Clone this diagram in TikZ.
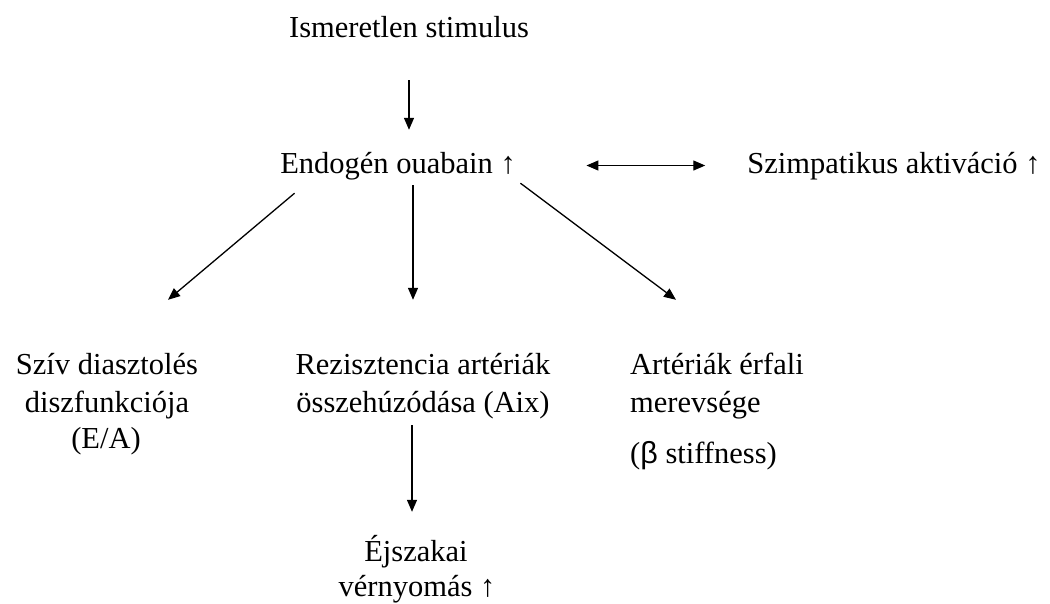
\documentclass[tikz,border=0pt]{standalone}
\usepackage{fontspec}
\setmainfont{Liberation Serif}
\newfontfamily\sansb{Liberation Sans}
\usetikzlibrary{arrows.meta}
\begin{document}
\begin{tikzpicture}[x=1pt,y=-1pt,
  txt/.style={inner sep=0pt, text height=22pt, text depth=7pt, font=\fontsize{30.5}{37}\selectfont},
  tip/.style={Triangle[length=12pt,width=10pt]},
  arr/.style={line width=1.3pt, -{Triangle[length=12pt,width=10pt]}},
  darr/.style={line width=1.3pt, {Triangle[length=12pt,width=10pt]}-{Triangle[length=12pt,width=10pt]}}]
\useasboundingbox[fill=white] (0,0) rectangle (1050,603);
\node[txt, anchor=base] (stim) at (409,37) {Ismeretlen stimulus};
\node[txt, anchor=base] (endo) at (398,173) {Endogén ouabain ↑};
\node[txt, anchor=base] (symp) at (894,173) {Szimpatikus aktiváció ↑};
\node[txt, anchor=base] (sziv1) at (107,374) {Szív diasztolés};
\node[txt, anchor=base] (sziv2) at (107,412) {diszfunkciója};
\node[txt, anchor=base] (sziv3) at (106,448) {(E/A)};
\node[txt, anchor=base] (rez1) at (423,374) {Rezisztencia artériák};
\node[txt, anchor=base] (rez2) at (423,412) {összehúzódása (Aix)};
\node[txt, anchor=base west] (art1) at (630,374) {Artériák érfali};
\node[txt, anchor=base west] (art2) at (630,412) {merevsége};
\node[txt, anchor=base west] (art3) at (630,463) {({\sansb β} stiffness)};
\node[txt, anchor=base] (ej1) at (416,561) {Éjszakai};
\node[txt, anchor=base] (ej2) at (417,596) {vérnyomás ↑};
\draw[arr] ([yshift=-36pt]stim.south) -- ([xshift=11pt,yshift=21pt]endo.north);
\draw[darr] ([xshift=70.5pt]endo.east) -- ([xshift=-42pt]symp.west);
\draw[arr] ([xshift=14.5pt,yshift=-13pt]endo.south west) -- ([xshift=61pt,yshift=52pt]sziv1.north);
\draw[arr] ([xshift=15pt,yshift=-5pt]endo.south) -- ([xshift=-10pt,yshift=52pt]rez1.north);
\draw[arr] ([xshift=4.5pt,yshift=-3pt]endo.south east) -- ([xshift=46pt,yshift=52pt]art1.north west);
\draw[arr] ([xshift=-11pt,yshift=-6pt]rez2.south) -- ([xshift=-4pt,yshift=27pt]ej1.north);
\end{tikzpicture}
\end{document}
